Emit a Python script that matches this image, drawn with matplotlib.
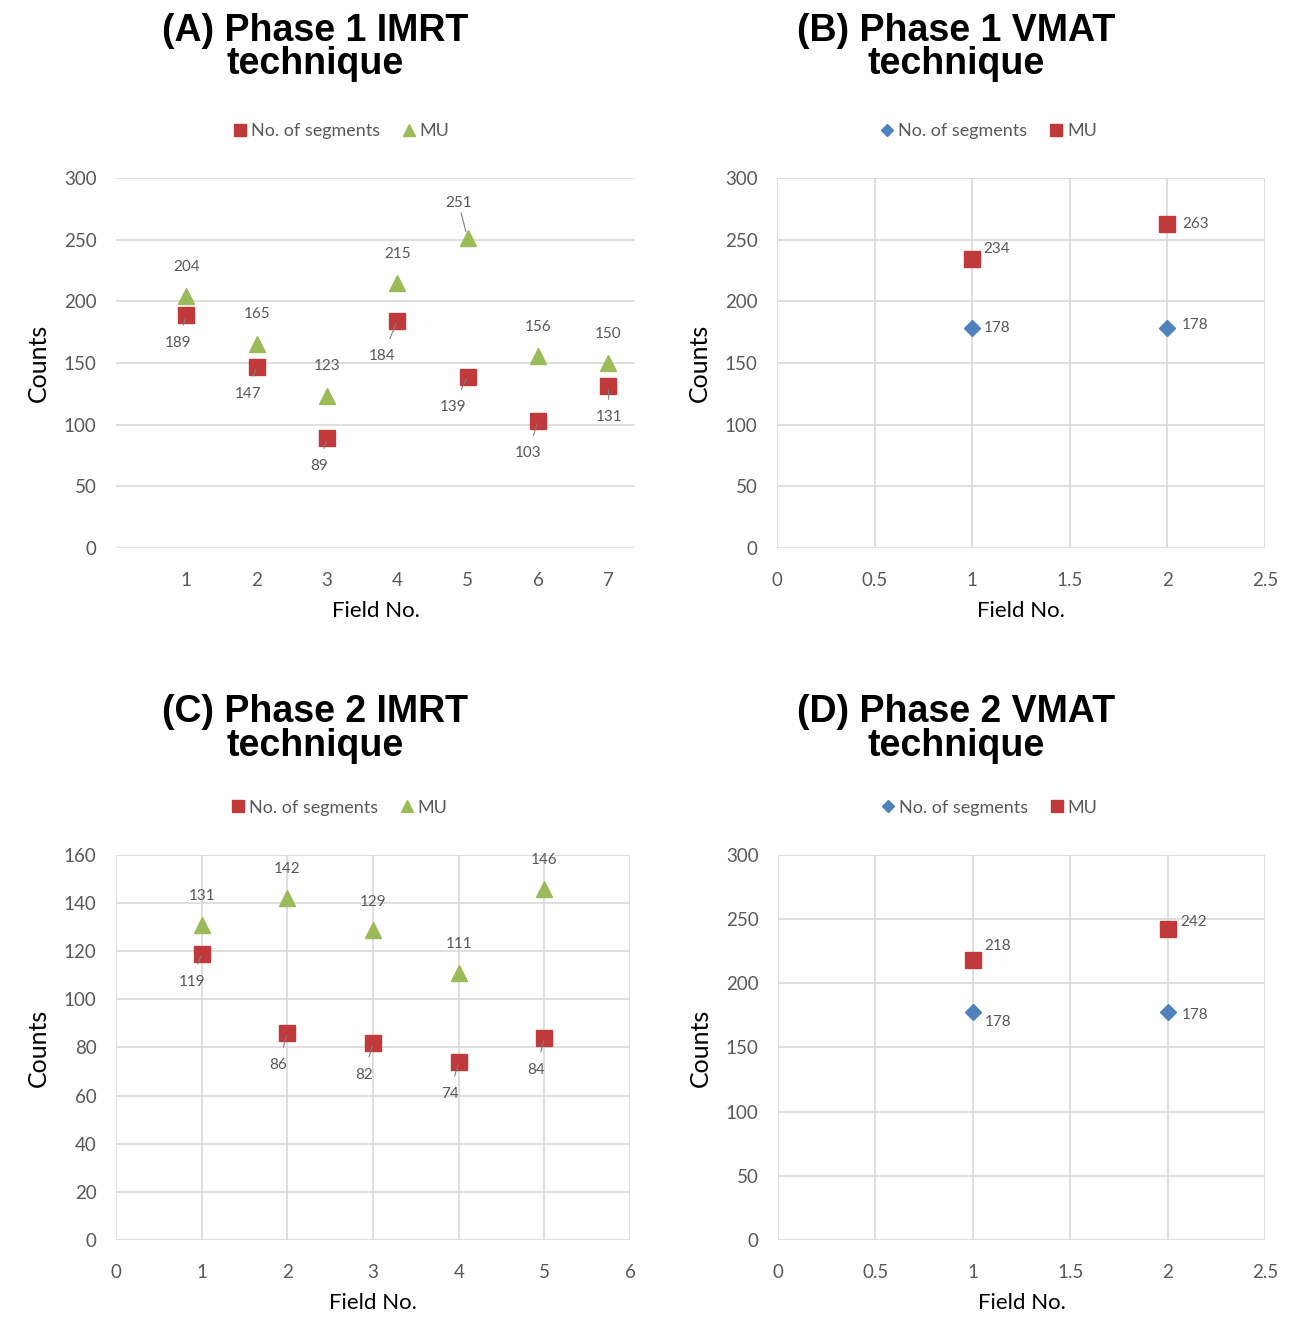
import matplotlib
matplotlib.use("Agg")
import matplotlib.pyplot as plt

plt.rcParams['font.family'] = ['Lato', 'DejaVu Sans']

RED = '#C0393B'
GREEN = '#9BBB59'
BLUE = '#4F81BD'
GRID = '#D9D9D9'
TXT = '#595959'

# (A) Phase 1 IMRT
a_fields = [1, 2, 3, 4, 5, 6, 7]
a_segments = [189, 147, 89, 184, 139, 103, 131]
a_mu = [204, 165, 123, 215, 251, 156, 150]

# (B) Phase 1 VMAT
b_fields = [1, 2]
b_segments = [178, 178]
b_mu = [234, 263]

# (C) Phase 2 IMRT
c_fields = [1, 2, 3, 4, 5]
c_segments = [119, 86, 82, 74, 84]
c_mu = [131, 142, 129, 111, 146]

# (D) Phase 2 VMAT
d_fields = [1, 2]
d_segments = [178, 178]
d_mu = [218, 242]

# label offsets in pixels (dx, dy), dy up
a_seg_off = [(-8, -28), (-9, -27), (-8, -28), (-15, -35), (-15, -30), (-10, -32), (1, -31)]
a_mu_off = [(0, 29), (0, 30), (0, 30), (0, 29), (-9, 35), (0, 29), (0, 29)]
c_seg_off = [(-10, -28), (-9, -32), (-9, -32), (-9, -32), (-8, -32)]
c_mu_off = [(0, 29), (0, 29), (0, 28), (0, 29), (0, 29)]
b_seg_off = [(25, 0), (28, 3)]
b_mu_off = [(25, 10), (28, 0)]
d_seg_off = [(25, -10), (28, -3)]
d_mu_off = [(25, 14), (26, 7)]

fig = plt.figure(figsize=(13.08, 13.2), dpi=100)

axA = fig.add_axes([0.0887, 0.5848, 0.3968, 0.2804])
axB = fig.add_axes([0.594, 0.5848, 0.373, 0.2804])
axC = fig.add_axes([0.0887, 0.0606, 0.393, 0.2917])
axD = fig.add_axes([0.5948, 0.0606, 0.3723, 0.2917])


def label_points(ax, xs, ys, offs, leader):
    for x, y, (dx, dy) in zip(xs, ys, offs):
        kw = {}
        if leader:
            kw['arrowprops'] = dict(arrowstyle='-', color='#7F7F7F', lw=0.8,
                                    shrinkA=6, shrinkB=2)
        ax.annotate(str(y), (x, y), xytext=(dx, dy), textcoords='offset pixels',
                    ha='center', va='center', fontsize=11, color=TXT, **kw)


def style(ax, vgrid):
    for s in ax.spines.values():
        s.set_visible(False)
    ax.grid(True, axis='y', color=GRID, lw=1.2)
    if vgrid:
        ax.grid(True, axis='x', color=GRID, lw=1.2)
    ax.set_axisbelow(True)
    ax.tick_params(length=0, labelsize=13.5, labelcolor=TXT)
    ax.tick_params(axis='x', pad=17)
    ax.tick_params(axis='y', pad=14)
    ax.set_ylabel('Counts', fontsize=18, labelpad=10)
    ax.set_xlabel('Field No.', fontsize=16, labelpad=9)


def title(x, y, txt):
    fig.text(x, y, txt, ha='center', va='top', fontsize=27, fontweight='bold',
             family=['Liberation Sans', 'DejaVu Sans'], linespacing=0.9)


# A
axA.plot(a_fields, a_segments, 's', color=RED, ms=11, label='No. of segments')
axA.plot(a_fields, a_mu, '^', color=GREEN, ms=11, label='MU')
label_points(axA, a_fields, a_segments, a_seg_off, True)
label_points(axA, a_fields, a_mu, a_mu_off, False)
axA.annotate('', (5, 251), xytext=(-9, 35), textcoords='offset pixels',
             arrowprops=dict(arrowstyle='-', color='#7F7F7F', lw=0.8, shrinkA=7, shrinkB=5))
axA.set_xlim(0.0, 7.38)
axA.set_ylim(0, 300)
axA.set_xticks(a_fields)
axA.set_yticks(range(0, 301, 50))
style(axA, False)

# B
axB.plot(b_fields, b_segments, 'D', color=BLUE, ms=8, label='No. of segments')
axB.plot(b_fields, b_mu, 's', color=RED, ms=11, label='MU')
label_points(axB, b_fields, b_segments, b_seg_off, False)
label_points(axB, b_fields, b_mu, b_mu_off, False)
axB.set_xlim(0, 2.5)
axB.set_ylim(0, 300)
axB.set_xticks([0, 0.5, 1, 1.5, 2, 2.5])
axB.set_xticklabels(['0', '0.5', '1', '1.5', '2', '2.5'])
axB.set_yticks(range(0, 301, 50))
style(axB, True)

# C
axC.plot(c_fields, c_segments, 's', color=RED, ms=11, label='No. of segments')
axC.plot(c_fields, c_mu, '^', color=GREEN, ms=11, label='MU')
label_points(axC, c_fields, c_segments, c_seg_off, True)
label_points(axC, c_fields, c_mu, c_mu_off, False)
axC.set_xlim(0, 6)
axC.set_ylim(0, 160)
axC.set_xticks(range(0, 7))
axC.set_yticks(range(0, 161, 20))
style(axC, True)

# D
axD.plot(d_fields, d_segments, 'D', color=BLUE, ms=8, label='No. of segments')
axD.plot(d_fields, d_mu, 's', color=RED, ms=11, label='MU')
label_points(axD, d_fields, d_segments, d_seg_off, False)
label_points(axD, d_fields, d_mu, d_mu_off, False)
axD.set_xlim(0, 2.5)
axD.set_ylim(0, 300)
axD.set_xticks([0, 0.5, 1, 1.5, 2, 2.5])
axD.set_xticklabels(['0', '0.5', '1', '1.5', '2', '2.5'])
axD.set_yticks(range(0, 301, 50))
style(axD, True)

for ax in (axA, axB, axC, axD):
    ax.legend(loc='lower center', bbox_to_anchor=(0.43, 1.06), ncol=2, frameon=False,
              fontsize=13, labelcolor=TXT, handletextpad=0.0, columnspacing=1.0,
              markerscale=0.75, handlelength=1.2)

title(0.241, 0.990, '(A) Phase 1 IMRT\ntechnique')
title(0.731, 0.990, '(B) Phase 1 VMAT\ntechnique')
title(0.241, 0.474, '(C) Phase 2 IMRT\ntechnique')
title(0.731, 0.474, '(D) Phase 2 VMAT\ntechnique')

fig.savefig('out.png', dpi=100)
